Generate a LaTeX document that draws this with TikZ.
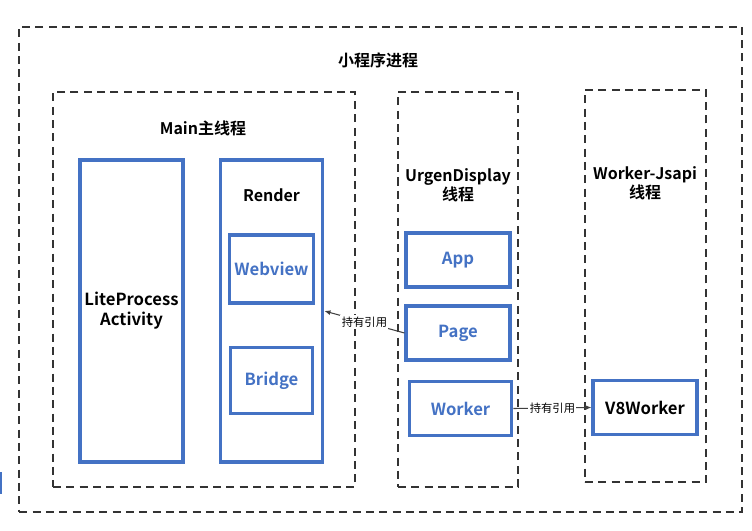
\documentclass[tikz,border=0pt]{standalone}
\usepackage{fontspec}
\setmainfont{Noto Sans CJK SC}[BoldFont={Noto Sans CJK SC Bold}]
\usetikzlibrary{arrows.meta,positioning,calc}
\definecolor{boxblue}{HTML}{4472C4}
\definecolor{dashgray}{HTML}{333333}
\definecolor{linegray}{HTML}{404040}
\tikzset{
  group/.style={rectangle, draw=dashgray, fill=none, line width=1.1pt, dash pattern=on 6pt off 4pt},
  block/.style={rectangle, draw=boxblue, fill=white, line width=2.3pt, align=center, font=\bfseries\fontsize{12.5}{15}\selectfont},
  inner block/.style={block, text=boxblue},
  title/.style={font=\bfseries\fontsize{12}{14}\selectfont, align=center},
  ref/.style={-{Latex[length=1.6mm,width=1.3mm]}, draw=linegray, line width=0.8pt},
  ref label/.style={font=\fontsize{8.5}{9}\selectfont, fill=white, inner sep=1pt}
}
\begin{document}
\begin{tikzpicture}[x=0.75pt, y=-0.75pt]
  \useasboundingbox (0,0) rectangle (752,531);

  % groups
  \node[group, minimum width=542pt, minimum height=364pt] (proc) at (380.5,269.5) {};
  \node[title] (proctitle) at (378,60) {小程序进程};
  \node[group, minimum width=226.5pt, minimum height=296pt] (main) at (204,289.5) {};
  \node[title] (maintitle) at (203,128) {Main主线程};
  \node[group, minimum width=90pt, minimum height=296pt] (urgen) at (458,289.5) {};
  \node[title] (urgentitle) at (458,185) {UrgenDisplay\\线程};
  \node[group, minimum width=91pt, minimum height=294pt] (jsapi) at (645.5,286) {};
  \node[title] (jsapititle) at (645,183) {Worker-Jsapi\\线程};

  % main thread
  \node[block, minimum width=77pt, minimum height=226.5pt] (lite) at (131.5,311) {LiteProcess\\Activity};
  \node[block, minimum width=77pt, minimum height=226.5pt] (render) at (271.5,311) {};
  \node[title] (rendertitle) at (271.5,195) {Render};
  \node[inner block, minimum width=62pt, minimum height=51pt] (webview) at (271.5,269) {Webview};
  \node[inner block, minimum width=62pt, minimum height=50pt] (bridge) at (271.5,380.5) {Bridge};

  % urgent display thread
  \node[inner block, minimum width=78pt, minimum height=40.5pt] (app) at (458,260) {App};
  \node[inner block, minimum width=78pt, minimum height=40.5pt] (page) at (458,333) {Page};
  \node[inner block, minimum width=77pt, minimum height=41pt] (worker) at (460.5,408.5) {Worker};

  % worker thread
  \node[block, minimum width=78pt, minimum height=41pt] (v8) at (645,407.5) {V8Worker};

  \draw[ref] (page.west) -- node[ref label] {持有引用} (render.east);
  \draw[ref] (worker.east) -- node[ref label] {持有引用} (v8.west);

  \fill[boxblue] (0,472) rectangle (2,494);
\end{tikzpicture}
\end{document}
